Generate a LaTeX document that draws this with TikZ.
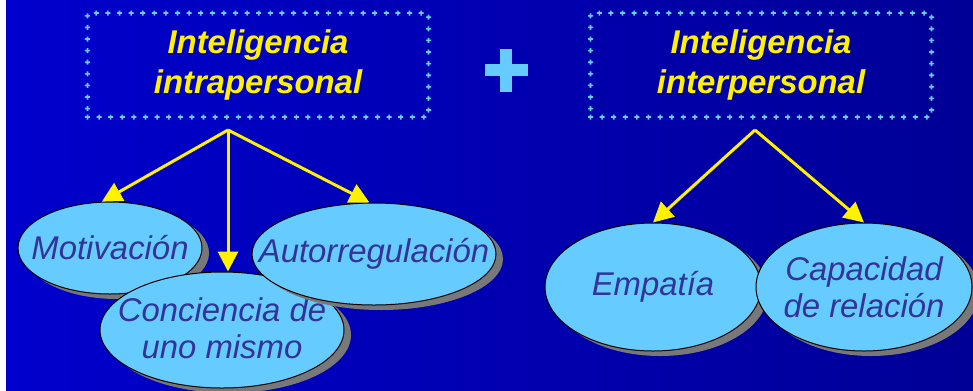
\documentclass[tikz,border=0pt]{standalone}
\usepackage{fontspec}
\setmainfont{Liberation Sans}
\usetikzlibrary{arrows.meta,shadows,decorations.markings,shapes.geometric,calc}
\definecolor{bgA}{RGB}{0,0,205}
\definecolor{bgB}{RGB}{0,0,150}
\definecolor{lblue}{RGB}{102,204,255}
\definecolor{ink}{RGB}{51,51,153}
\definecolor{shad}{RGB}{120,120,120}
\begin{document}
\begin{tikzpicture}[x=1bp,y=-1bp,
 hbox/.style={rectangle, minimum width=341bp, minimum height=104bp, inner sep=0pt,
   text=yellow, font=\bfseries\itshape\fontsize{33}{40}\selectfont, align=center,
   postaction={decorate},
   decoration={markings, mark=between positions 0 and 1 step 11.6bp with
     {\fill[lblue] (-2.5bp,-0.8bp) rectangle (2.5bp,0.8bp) (-0.8bp,-2.5bp) rectangle (0.8bp,2.5bp);}}},
 oval/.style={ellipse, draw=black, line width=1bp, fill=lblue, inner sep=0pt,
   drop shadow={shadow xshift=7bp, shadow yshift=-5bp, fill=shad, opacity=1}},
 otext/.style={text=ink, inner sep=0pt, align=center, font=\itshape\fontsize{33}{37}\selectfont},
 arr/.style={draw=yellow, line width=3bp, -{Triangle[length=20bp,width=20bp]}}
]
\useasboundingbox (0,0) rectangle (973,390);
\fill[white] (0,0) rectangle (973,390);
\shade[left color=bgA, right color=bgB] (6,0) rectangle (973,390);

% headers
\node[hbox] (h1) at (258,65) {Inteligencia\\intrapersonal};
\node[hbox] (h2) at (761,65) {Inteligencia\\interpersonal};

% plus sign
\fill[lblue] (485,64) rectangle (528,76);
\fill[lblue] (500,49) rectangle (512,92);

% ellipses
\node[oval, minimum width=184bp, minimum height=92bp,
  label={[otext]center:Motivación}] (mot) at (110,248) {};
\node[oval, minimum width=244bp, minimum height=116bp,
  label={[otext,yshift=2bp]center:{Conciencia de\\uno mismo}}] (conc) at (222,330) {};
\node[oval, minimum width=244bp, minimum height=102bp,
  label={[otext]center:Autorregulación}] (auto) at (374,254) {};
\node[oval, minimum width=216bp, minimum height=128bp,
  label={[otext]center:Empatía}] (emp) at (653,287) {};
\node[oval, minimum width=216bp, minimum height=128bp,
  label={[otext]center:{Capacidad\\de relación}}] (cap) at (864,287) {};

% arrows
\coordinate (s1) at (228,130);
\coordinate (s2) at (755,130);
\draw[arr] (s1) -- (mot.100);
\draw[arr] (s1) -- (s1 |- conc.north);
\draw[arr] (s1) -- (auto.95);
\draw[arr] (s2) -- (emp.north);
\draw[arr] (s2) -- (cap.north);
\end{tikzpicture}
\end{document}
